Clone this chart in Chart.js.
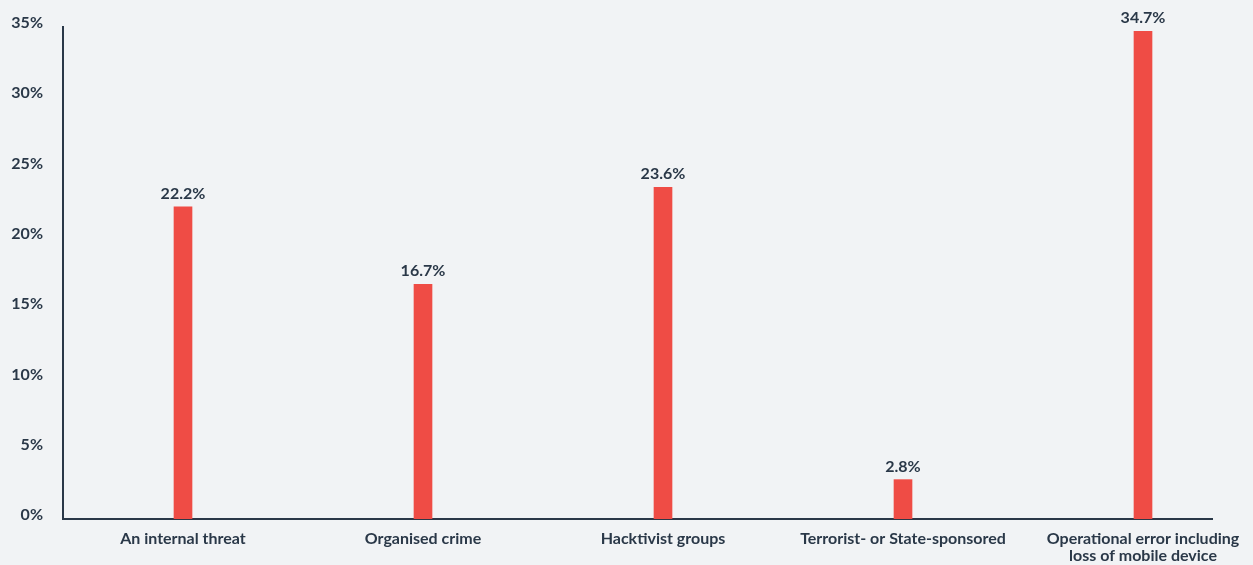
<!DOCTYPE html>
<html>
<head>
<meta charset="utf-8">
<script src="https://cdn.jsdelivr.net/npm/chart.js@4/dist/chart.umd.min.js"></script>
<style>
  html, body { margin: 0; padding: 0; background: #f1f3f5; }
  #wrap { width: 1253px; height: 565px; position: relative; }
</style>
</head>
<body>
<div id="wrap"><canvas id="c" width="1253" height="565"></canvas></div>
<script>
// Source of the threat, share of respondents (%)
const categories = [
  ["An internal threat"],
  ["Organised crime"],
  ["Hacktivist groups"],
  ["Terrorist- or State-sponsored"],
  ["Operational error including", "loss of mobile device"]
];
const values = [22.2, 16.7, 23.6, 2.8, 34.7];
const yTicks = [0, 5, 10, 15, 20, 25, 30, 35];

const ink = '#2a3848';
const barColor = '#ef4c45';
const fontFamily = 'Lato, "Open Sans", sans-serif';

// Writes each bar's value just above it
const valueLabels = {
  id: 'valueLabels',
  afterDatasetsDraw(chart) {
    const ctx = chart.ctx;
    const meta = chart.getDatasetMeta(0);
    ctx.save();
    ctx.fillStyle = ink;
    ctx.font = '700 16px ' + fontFamily;
    ctx.textAlign = 'center';
    ctx.textBaseline = 'alphabetic';
    meta.data.forEach((bar, i) => {
      ctx.fillText(values[i].toFixed(1) + '%', bar.x, bar.y - 8);
    });
    ctx.restore();
  }
};

new Chart(document.getElementById('c'), {
  type: 'bar',
  data: {
    datasets: [{
      data: values.map((v, i) => ({ x: i, y: v })),
      backgroundColor: barColor,
      borderWidth: 0,
      barThickness: 18
    }]
  },
  options: {
    responsive: false,
    animation: false,
    layout: { padding: { top: 27, right: 41, left: 0, bottom: 0 } },
    plugins: { legend: { display: false }, tooltip: { enabled: false } },
    scales: {
      x: {
        type: 'linear',
        offset: false,
        min: -0.5,
        max: 4.2875,
        grid: { display: false, drawTicks: false },
        border: { display: true, color: ink, width: 2 },
        afterBuildTicks(scale) {
          scale.ticks = categories.map((_, i) => ({ value: i }));
        },
        afterFit(scale) {
          scale.height = 46;
          scale.paddingLeft = 0;
          scale.paddingRight = 0;
        },
        ticks: {
          padding: 11,
          color: ink,
          maxRotation: 0,
          autoSkip: false,
          font: { family: fontFamily, size: 16, weight: '700', lineHeight: 1.08 },
          callback: (v) => categories[v] || ''
        }
      },
      y: {
        min: 0,
        max: 35,
        grid: { display: false, drawTicks: false },
        border: { display: true, color: ink, width: 2 },
        afterBuildTicks(scale) {
          scale.ticks = yTicks.map(v => ({ value: v }));
        },
        afterFit(scale) {
          scale.width = 63;
          scale.paddingTop = 0;
          scale.paddingBottom = 0;
        },
        ticks: {
          padding: 20,
          labelOffset: -4,
          color: ink,
          font: { family: fontFamily, size: 16, weight: '700' },
          callback: (v) => v + '%'
        }
      }
    }
  },
  plugins: [valueLabels]
});
</script>
</body>
</html>
